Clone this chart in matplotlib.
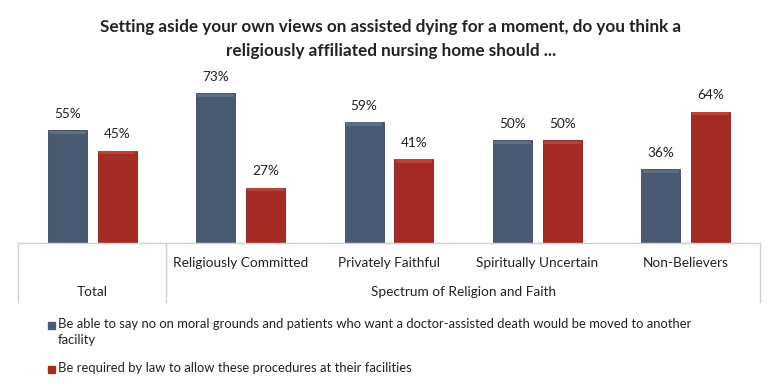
import numpy as np
import matplotlib.pyplot as plt
from matplotlib.patches import Rectangle

plt.rcParams['font.family'] = ['Lato', 'DejaVu Sans']

# data
categories = ['', 'Religiously Committed', 'Privately Faithful',
              'Spiritually Uncertain', 'Non-Believers']
groups = ['Total', 'Spectrum of Religion and Faith']
say_no = [55, 73, 59, 50, 36]
required = [45, 27, 41, 50, 64]
legend_labels = [
    'Be able to say no on moral grounds and patients who want a doctor-assisted death would be moved to another\nfacility',
    'Be required by law to allow these procedures at their facilities',
]
title = ('Setting aside your own views on assisted dying for a moment, do you think a\n'
         'religiously affiliated nursing home should ...')

blue = '#4a5a72'
red = '#a52b24'
line_col = '#d0d0d0'

fig = plt.figure(figsize=(7.8, 3.92), dpi=100)
# axes spans pixels x 18..760, y 80..243
ax = fig.add_axes([18 / 780, 149 / 392, 742 / 780, 163 / 392])

x = np.arange(len(categories))
w = 0.263
off = 0.168
b1 = ax.bar(x - off, say_no, w, color=blue, edgecolor='#3a475a', linewidth=0.6)
b2 = ax.bar(x + off, required, w, color=red, edgecolor='#80201b', linewidth=0.6)

# subtle bevel highlight on the top of every bar
for bars, hl in ((b1, '#5d6d85'), (b2, '#b9423a')):
    for b in bars:
        ax.add_patch(Rectangle((b.get_x() + 0.008, b.get_height() - 1.8),
                               b.get_width() - 0.016, 1.6, color=hl, lw=0))

for bars, vals in ((b1, say_no), (b2, required)):
    for b, v in zip(bars, vals):
        ax.text(b.get_x() + b.get_width() / 2, v + 8, f'{v}%',
                ha='center', va='center', fontsize=9.8, color='#222222')

ax.set_xlim(-0.5, len(categories) - 0.5)
ax.set_ylim(0, 79.5)
ax.axis('off')

# axis frame below baseline
ax.plot([-0.5, len(categories) - 0.5], [0, 0], color=line_col, lw=1, clip_on=False)
trans = ax.get_xaxis_transform()
for xv in (-0.5, 0.5, len(categories) - 0.5):
    ax.plot([xv, xv], [0, -0.362], color=line_col, lw=1, transform=trans, clip_on=False)

for xi, c in zip(x, categories):
    ax.text(xi, -0.123, c, transform=trans, ha='center', va='center',
            fontsize=9.8, color='#222222')
ax.text(0, -0.30, groups[0], transform=trans, ha='center', va='center',
        fontsize=9.8, color='#222222')
ax.text(2.5, -0.30, groups[1], transform=trans, ha='center', va='center',
        fontsize=9.8, color='#222222')

fig.text(391 / 780, 1 - 39 / 392, title, ha='center', va='center',
         fontsize=12.3, fontweight='bold', linespacing=1.6, color='#222222')

# legend drawn by hand so the marker sits on the first line
for (ypx, lab, col) in ((325, legend_labels[0], blue), (369, legend_labels[1], red)):
    fig.patches.append(Rectangle((48 / 780, 1 - (ypx + 4) / 392), 7 / 780, 7 / 392,
                                 transform=fig.transFigure, color=col, figure=fig))
    fig.text(58 / 780, 1 - (ypx - 7.5) / 392, lab, ha='left', va='top',
             fontsize=9.4, linespacing=1.45, color='#222222')

fig.savefig('out.png', dpi=100)
